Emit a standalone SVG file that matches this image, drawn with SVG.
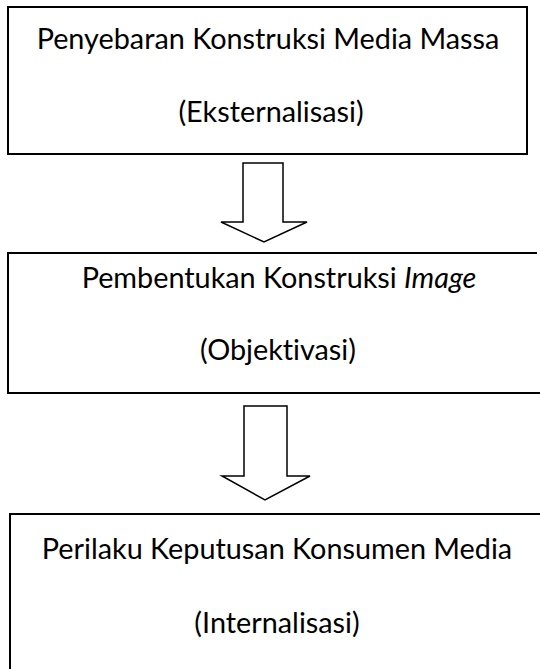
<svg xmlns="http://www.w3.org/2000/svg" width="540" height="669" viewBox="0 0 540 669">
<style>
.box{fill:none;stroke:#000;stroke-width:2}
.arr{fill:#fff;stroke:#000;stroke-width:1.5;stroke-linejoin:miter}
text{font-family:"Lato","Open Sans","Liberation Sans",sans-serif;font-size:28.8px;fill:#000;text-anchor:middle;font-variant-ligatures:none}
</style>
<rect width="540" height="669" fill="#fff"/>
<g id="node1">
<rect class="box" x="8" y="7" width="519" height="147"/>
<text x="268" y="49">Penyebaran Konstruksi Media Massa</text>
<text x="271" y="122">(Eksternalisasi)</text>
</g>
<g id="node2">
<path class="box" d="M537,253 H8 V393 H540"/>
<text x="279" y="288">Pembentukan Konstruksi <tspan font-style="italic">Image</tspan></text>
<text x="278" y="360">(Objektivasi)</text>
</g>
<g id="node3">
<path class="box" d="M541,514 H10 V670"/>
<text x="277" y="559">Perilaku Keputusan Konsumen Media</text>
<text x="277" y="633">(Internalisasi)</text>
</g>
<g id="connectors">
<path class="arr" d="M243,163 H283 V222 H307 L264,242 L221,222 H243 Z"/>
<path class="arr" d="M244,406 H287 V476 H310 L265,500 L222,476 H244 Z"/>
</g>
</svg>
